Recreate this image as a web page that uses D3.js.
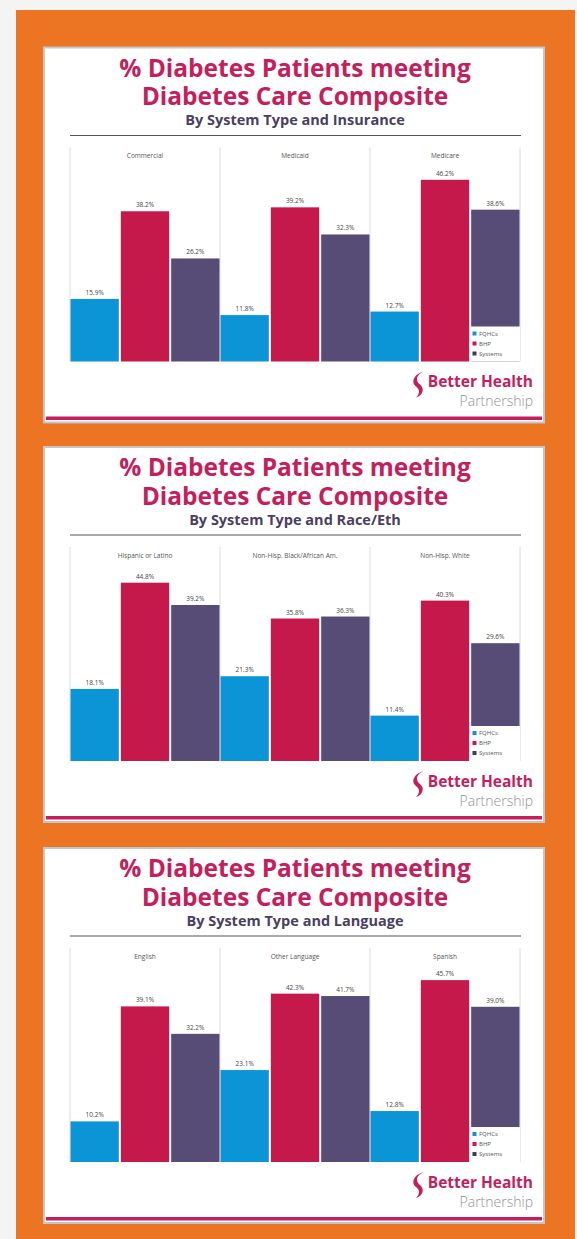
<!DOCTYPE html>
<html>
<head>
<meta charset="utf-8">
<script src="https://cdn.jsdelivr.net/npm/d3@7"></script>
<style>
  body { margin: 0; background: #f4f4f4; }
  svg { display: block; }
</style>
</head>
<body>
<svg id="page" width="577" height="1239"></svg>
<script>

// chart data
var seriesNames = ["FQHCs", "BHP", "Systems"];
var titleTop = "% Diabetes Patients meeting";
var titleBottom = "Diabetes Care Composite";
var subtitles = ["By System Type and Insurance", "By System Type and Race/Eth", "By System Type and Language"];

var insuranceCats = ["Commercial", "Medicaid", "Medicare"];
var insuranceFQHC = [15.9, 11.8, 12.7];
var insuranceBHP = [38.2, 39.2, 46.2];
var insuranceSystems = [26.2, 32.3, 38.6];

var raceCats = ["Hispanic or Latino", "Non-Hisp. Black/African Am.", "Non-Hisp. White"];
var raceFQHC = [18.1, 21.3, 11.4];
var raceBHP = [44.8, 35.8, 40.3];
var raceSystems = [39.2, 36.3, 29.6];

var languageCats = ["English", "Other Language", "Spanish"];
var languageFQHC = [10.2, 23.1, 12.8];
var languageBHP = [39.1, 42.3, 45.7];
var languageSystems = [32.2, 41.7, 39.0];

var panels = [
  {cats: insuranceCats, values: [insuranceFQHC, insuranceBHP, insuranceSystems], sub: subtitles[0], top: 47.5, yMax: 50.6},
  {cats: raceCats, values: [raceFQHC, raceBHP, raceSystems], sub: subtitles[1], top: 447, yMax: 50},
  {cats: languageCats, values: [languageFQHC, languageBHP, languageSystems], sub: subtitles[2], top: 848, yMax: 50}
];

var colors = d3.scaleOrdinal().domain(seriesNames).range(["#0b95d6", "#c5194b", "#574c75"]);
var pink = "#c41f5c";

var svg = d3.select("#page");

// orange backdrop
svg.append("rect")
  .attr("x", 16).attr("y", 10)
  .attr("width", 559).attr("height", 1229)
  .attr("fill", "#ec7524");

var cardLeft = 44, cardWidth = 500, cardHeight = 375;
var plotLeft = 70, plotRight = 520;

var x0 = d3.scaleBand().range([plotLeft, plotRight]).padding(0);
var x1 = d3.scaleBand().domain(seriesNames).paddingInner(0.04).paddingOuter(0.01);

panels.forEach(function(p) {
  var g = svg.append("g").attr("transform", "translate(0," + p.top + ")");

  g.append("rect")
    .attr("x", cardLeft).attr("y", 0)
    .attr("width", cardWidth).attr("height", cardHeight)
    .attr("fill", "#fff")
    .attr("stroke", "#c6c6c6").attr("stroke-width", 2);

  g.append("rect")
    .attr("x", cardLeft + 2).attr("y", cardHeight - 6)
    .attr("width", cardWidth - 4).attr("height", 3.5)
    .attr("fill", pink);

  // titles
  g.append("text")
    .attr("x", 295).attr("y", 29)
    .attr("text-anchor", "middle")
    .style("font", "bold 24.5px 'Open Sans'")
    .attr("fill", pink)
    .text(titleTop);
  g.append("text")
    .attr("x", 295).attr("y", 57.5)
    .attr("text-anchor", "middle")
    .style("font", "bold 24.5px 'Open Sans'")
    .attr("fill", pink)
    .text(titleBottom);
  g.append("text")
    .attr("x", 295).attr("y", 77.5)
    .attr("text-anchor", "middle")
    .style("font", "bold 14.5px 'Open Sans'")
    .attr("fill", "#4a3f62")
    .text(p.sub);

  g.append("line")
    .attr("x1", 70).attr("x2", 521)
    .attr("y1", 88).attr("y2", 88)
    .attr("stroke", "#555").attr("stroke-width", 1.2);

  var baseline = 314;
  var y = d3.scaleLinear().domain([0, p.yMax]).range([baseline, baseline - 199]);

  x0.domain(p.cats);
  x1.range([0, x0.bandwidth()]);

  // vertical separators
  var seps = p.cats.map(function(c) { return x0(c); }).concat([plotRight]);
  g.selectAll(".sep").data(seps).enter().append("line")
    .attr("x1", function(d) { return d; }).attr("x2", function(d) { return d; })
    .attr("y1", 100).attr("y2", baseline)
    .attr("stroke", "#dcdcdc").attr("stroke-width", 1);

  g.selectAll(".cat").data(p.cats).enter().append("text")
    .attr("x", function(d) { return x0(d) + x0.bandwidth() / 2; })
    .attr("y", 110.5)
    .attr("text-anchor", "middle")
    .style("font", "6.5px 'Open Sans'")
    .attr("fill", "#555")
    .text(function(d) { return d; });

  var groups = g.selectAll(".grp").data(p.cats).enter().append("g")
    .attr("transform", function(d) { return "translate(" + x0(d) + ",0)"; });

  groups.selectAll("rect").data(function(d, i) {
      return seriesNames.map(function(s, j) { return {s: s, v: p.values[j][i]}; });
    })
    .enter().append("rect")
    .attr("x", function(d) { return x1(d.s); })
    .attr("width", x1.bandwidth())
    .attr("y", function(d) { return y(d.v); })
    .attr("height", function(d) { return baseline - y(d.v); })
    .attr("fill", function(d) { return colors(d.s); });

  groups.selectAll(".lbl").data(function(d, i) {
      return seriesNames.map(function(s, j) { return {s: s, v: p.values[j][i]}; });
    })
    .enter().append("text")
    .attr("x", function(d) { return x1(d.s) + x1.bandwidth() / 2; })
    .attr("y", function(d) { return y(d.v) - 4; })
    .attr("text-anchor", "middle")
    .style("font", "6.5px 'Open Sans'")
    .attr("fill", "#444")
    .text(function(d) { return d.v.toFixed(1) + "%"; });

  // legend sits over the bottom of the last bar
  var lg = g.append("g");
  lg.append("rect")
    .attr("x", 470).attr("y", 279)
    .attr("width", 50).attr("height", baseline - 279)
    .attr("fill", "#fff");
  seriesNames.forEach(function(s, i) {
    lg.append("rect")
      .attr("x", 472.5).attr("y", 284 + i * 10)
      .attr("width", 4).attr("height", 4)
      .attr("fill", i == 2 ? "#2f4650" : colors(s));
    lg.append("text")
      .attr("x", 479).attr("y", 288 + i * 10)
      .style("font", "6px 'Open Sans'")
      .attr("fill", "#555")
      .text(s);
  });

  // logo
  g.append("path")
    .attr("d", "M424,324 C416,327 415,333 420,337 C425,341 423,348 416,350 C420,346 420,342 416,339 C410,334 415,326 424,324 Z")
    .attr("fill", pink);
  g.append("text")
    .attr("x", 533).attr("y", 339.5)
    .attr("text-anchor", "end")
    .style("font", "bold 15.5px 'Open Sans'")
    .attr("fill", pink)
    .text("Better Health");
  g.append("text")
    .attr("x", 533).attr("y", 358.5)
    .attr("text-anchor", "end")
    .style("font", "300 14px 'Open Sans'")
    .attr("fill", "#939393")
    .text("Partnership");
});
</script>
</body>
</html>
